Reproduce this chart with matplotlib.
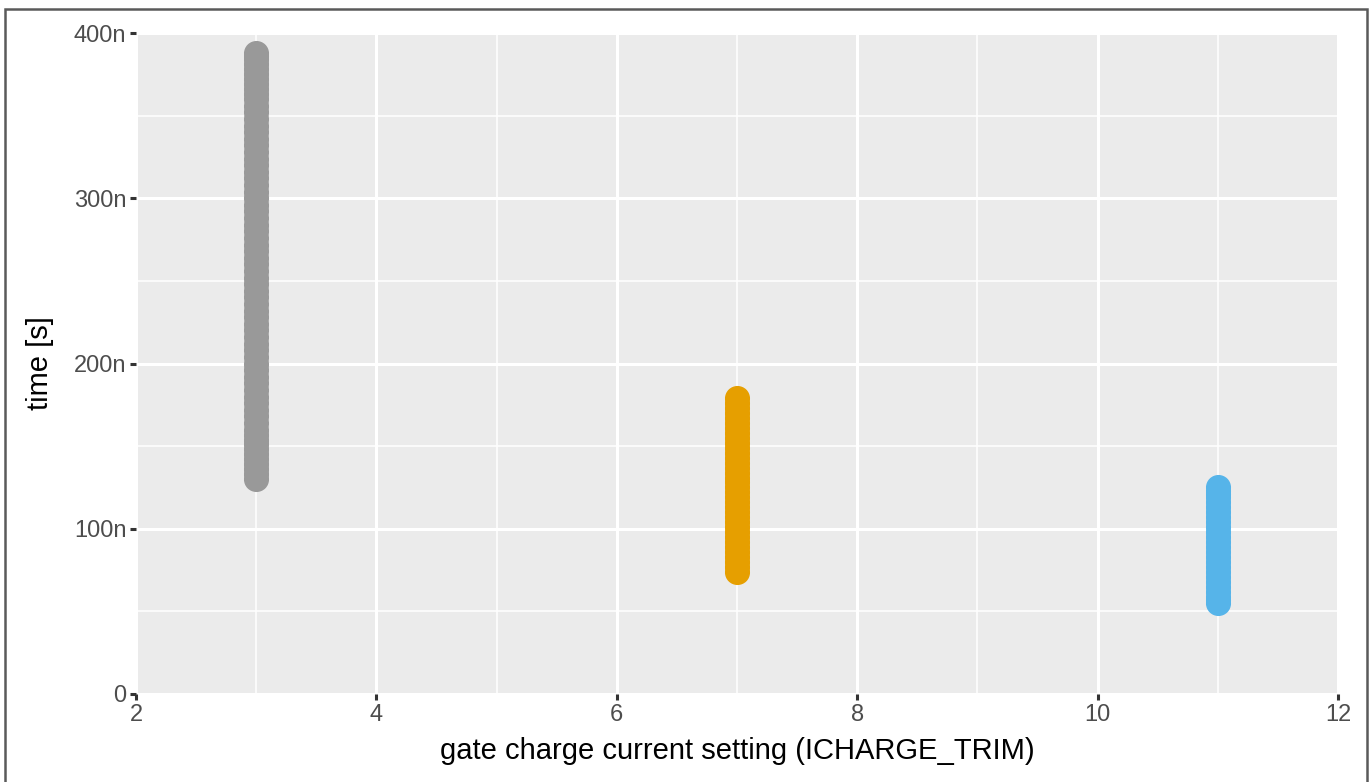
import matplotlib
matplotlib.use("Agg")
import matplotlib.pyplot as plt
from matplotlib.patches import Rectangle
from matplotlib.ticker import MultipleLocator

# measured charge times per ICHARGE_TRIM setting (seconds)
trim_gray  = 3
times_gray = [130e-9, 133e-9, 136e-9, 139e-9, 142e-9, 145e-9, 148e-9, 151e-9, 154e-9,
              157e-9, 160e-9, 164e-9, 168e-9, 172e-9, 176e-9, 180e-9, 184e-9, 188e-9,
              192e-9, 196e-9, 200e-9, 204e-9, 208e-9, 212e-9, 216e-9, 220e-9, 224e-9,
              228e-9, 232e-9, 236e-9, 240e-9, 244e-9, 248e-9, 252e-9, 256e-9, 260e-9,
              264e-9, 268e-9, 272e-9, 276e-9, 280e-9, 284e-9, 288e-9, 292e-9, 296e-9,
              300e-9, 304e-9, 308e-9, 312e-9, 316e-9, 320e-9, 324e-9, 328e-9, 332e-9,
              336e-9, 340e-9, 344e-9, 348e-9, 352e-9, 356e-9, 360e-9, 363e-9, 366e-9,
              369e-9, 372e-9, 375e-9, 378e-9, 381e-9, 384e-9, 386e-9, 388e-9]
trim_orange  = 7
times_orange = [74e-9, 77e-9, 80e-9, 83e-9, 86e-9, 89e-9, 92e-9, 95e-9, 98e-9, 101e-9,
                104e-9, 107e-9, 110e-9, 113e-9, 116e-9, 119e-9, 122e-9, 125e-9, 128e-9,
                131e-9, 134e-9, 137e-9, 140e-9, 143e-9, 146e-9, 149e-9, 152e-9, 155e-9,
                158e-9, 161e-9, 164e-9, 167e-9, 170e-9, 173e-9, 176e-9, 179e-9]
trim_blue  = 11
times_blue = [55e-9, 57e-9, 59e-9, 62e-9, 65e-9, 68e-9, 71e-9, 74e-9, 77e-9, 80e-9,
              83e-9, 86e-9, 89e-9, 92e-9, 95e-9, 98e-9, 101e-9, 104e-9, 107e-9, 110e-9,
              113e-9, 116e-9, 119e-9, 121e-9, 123e-9, 125e-9]

y_ticks  = [0, 100e-9, 200e-9, 300e-9, 400e-9]
y_labels = ["0", "100n", "200n", "300n", "400n"]
x_ticks  = [2, 4, 6, 8, 10, 12]

plt.rcParams["font.family"] = ["Liberation Sans", "DejaVu Sans"]

fig = plt.figure(figsize=(13.7, 7.82), dpi=100)
ax = fig.add_axes([136 / 1370, 88 / 782, 1202 / 1370, 661 / 782])
ax.set_facecolor("#EBEBEB")

ax.set_xlim(2, 12)
ax.set_ylim(0, 400e-9)
ax.set_xticks(x_ticks)
ax.set_yticks(y_ticks)
ax.set_yticklabels(y_labels)
ax.xaxis.set_minor_locator(MultipleLocator(1))
ax.yaxis.set_minor_locator(MultipleLocator(50e-9))

ax.grid(which="major", color="white", linewidth=2.2)
ax.grid(which="minor", color="white", linewidth=1.1)
ax.set_axisbelow(True)
for s in ax.spines.values():
    s.set_visible(False)

ax.tick_params(which="major", length=4, width=2.2, color="#333333",
               labelsize=17, labelcolor="#4D4D4D", pad=3)
ax.tick_params(which="minor", length=0)

msize = 290
ax.scatter([trim_gray] * len(times_gray), times_gray, s=msize,
           facecolors="#999999", edgecolors="#999999", linewidths=1.0, zorder=3)
ax.scatter([trim_orange] * len(times_orange), times_orange, s=msize,
           facecolors="#E69F00", edgecolors="#E69F00", linewidths=1.0, zorder=3)
ax.scatter([trim_blue] * len(times_blue), times_blue, s=msize,
           facecolors="#56B4E9", edgecolors="#56B4E9", linewidths=1.0, zorder=3)

ax.set_xlabel("gate charge current setting (ICHARGE_TRIM)", fontsize=21, labelpad=8)
ax.set_ylabel("time [s]", fontsize=21, labelpad=14)

# outer frame of the exported image
fig.patches.append(Rectangle((5 / 1370, -0.01), 1362 / 1370, 1 - 9 / 782 + 0.01,
                             transform=fig.transFigure, fill=False,
                             edgecolor="#5A5A5A", linewidth=1.8))

fig.savefig("out.png", dpi=100)
